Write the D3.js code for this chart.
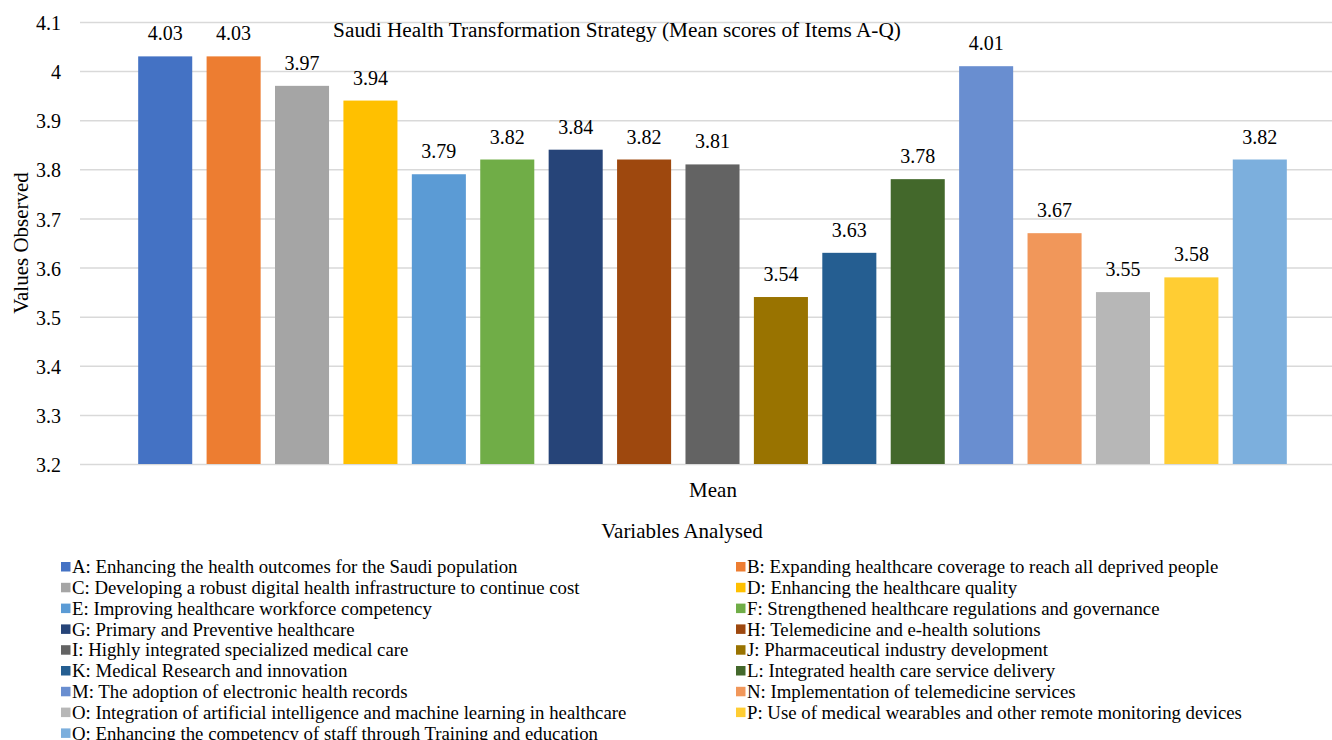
<!DOCTYPE html>
<html>
<head>
<meta charset="utf-8">
<script src="https://d3js.org/d3.v7.min.js"></script>
<style>
    body { margin: 0; background: #fff; }
    .tick line { stroke: #d9d9d9; stroke-width: 1.5; }
    path.domain { display: none; }
</style>
</head>
<body>
<div id="chart"></div>
<script>
    const items = ["A", "B", "C", "D", "E", "F", "G", "H", "I", "J", "K", "L", "M", "N", "O", "P", "Q"];
    const means = [4.03, 4.03, 3.97, 3.94, 3.79, 3.82, 3.84, 3.82, 3.81, 3.54, 3.63, 3.78, 4.01, 3.67, 3.55, 3.58, 3.82];
    const descriptions = [
        "Enhancing the health outcomes for the Saudi population",
        "Expanding healthcare coverage to reach all deprived people",
        "Developing a robust digital health infrastructure to continue cost",
        "Enhancing the healthcare quality",
        "Improving healthcare workforce competency",
        "Strengthened healthcare regulations and governance",
        "Primary and Preventive healthcare",
        "Telemedicine and e-health solutions",
        "Highly integrated specialized medical care",
        "Pharmaceutical industry development",
        "Medical Research and innovation",
        "Integrated health care service delivery",
        "The adoption of electronic health records",
        "Implementation of telemedicine services",
        "Integration of artificial intelligence and machine learning in healthcare",
        "Use of medical wearables and other remote monitoring devices",
        "Enhancing the competency of staff through Training and education"
    ];
    const colours = ["#4472C4", "#ED7D31", "#A5A5A5", "#FFC000", "#5B9BD5", "#70AD47", "#264478", "#9E480E",
        "#636363", "#997300", "#255E91", "#43682B", "#698ED0", "#F1975A", "#B7B7B7", "#FFCD33", "#7CAFDD"];
    const yTicks = [3.2, 3.3, 3.4, 3.5, 3.6, 3.7, 3.8, 3.9, 4, 4.1];

    const width = 1332, height = 740;
    const serif = "'Liberation Serif'";
    const svg = d3.select("#chart").append("svg")
        .attr("width", width)
        .attr("height", height);

    const x = d3.scaleBand()
        .domain(items)
        .range([131, 1294])
        .paddingInner(0.21)
        .paddingOuter(0.105);

    const y = d3.scaleLinear()
        .domain([3.2, 4.1])
        .range([464, 22]);

    // gridlines + y labels
    const yAxis = d3.axisLeft(y)
        .tickValues(yTicks)
        .tickFormat(d => d3.format("")(d))
        .tickSize(-(1345 - 80))
        .tickPadding(19);

    svg.append("g")
        .attr("class", "axis yAxis")
        .attr("transform", "translate(80,0)")
        .call(yAxis)
        .selectAll(".tick text")
        .attr("dy", "0.38em")
        .style("font-family", serif)
        .style("font-size", "20px")
        .style("fill", "#000");

    svg.selectAll("rect.bar")
        .data(items)
        .enter()
        .append("rect")
        .attr("class", "bar")
        .attr("x", d => x(d))
        .attr("width", x.bandwidth())
        .attr("y", (d, i) => y(means[i]))
        .attr("height", (d, i) => y(3.2) - y(means[i]))
        .style("fill", (d, i) => colours[i]);

    svg.selectAll("text.valueLabel")
        .data(items)
        .enter()
        .append("text")
        .attr("class", "valueLabel")
        .attr("x", d => x(d) + x.bandwidth() / 2)
        .attr("y", (d, i) => y(means[i]) - 16)
        .style("text-anchor", "middle")
        .style("font-family", serif)
        .style("font-size", "20px")
        .text((d, i) => d3.format(".2f")(means[i]));

    svg.append("text")
        .attr("x", 617)
        .attr("y", 37)
        .style("text-anchor", "middle")
        .style("font-family", serif)
        .style("font-size", "21.3px")
        .text("Saudi Health Transformation Strategy (Mean scores of Items A-Q)");

    svg.append("text")
        .attr("transform", "translate(28,243) rotate(-90)")
        .style("text-anchor", "middle")
        .style("font-family", serif)
        .style("font-size", "21px")
        .text("Values Observed");

    svg.append("text")
        .attr("x", 713)
        .attr("y", 497)
        .style("text-anchor", "middle")
        .style("font-family", serif)
        .style("font-size", "21px")
        .text("Mean");

    svg.append("text")
        .attr("x", 682)
        .attr("y", 538)
        .style("text-anchor", "middle")
        .style("font-family", serif)
        .style("font-size", "21px")
        .text("Variables Analysed");

    // legend, two columns
    const legend = svg.selectAll("g.legendItem")
        .data(items)
        .enter()
        .append("g")
        .attr("class", "legendItem")
        .attr("transform", (d, i) => `translate(${i % 2 === 0 ? 61 : 736}, ${566.5 + Math.floor(i / 2) * 20.8})`);

    legend.append("rect")
        .attr("x", 0)
        .attr("y", -4.5)
        .attr("width", 9.5)
        .attr("height", 9.5)
        .style("fill", (d, i) => colours[i]);

    legend.append("text")
        .attr("x", 11)
        .attr("y", 0)
        .attr("dy", "0.36em")
        .style("font-family", serif)
        .style("font-size", "18.8px")
        .text((d, i) => `${d}: ${descriptions[i]}`);
</script>
</body>
</html>
